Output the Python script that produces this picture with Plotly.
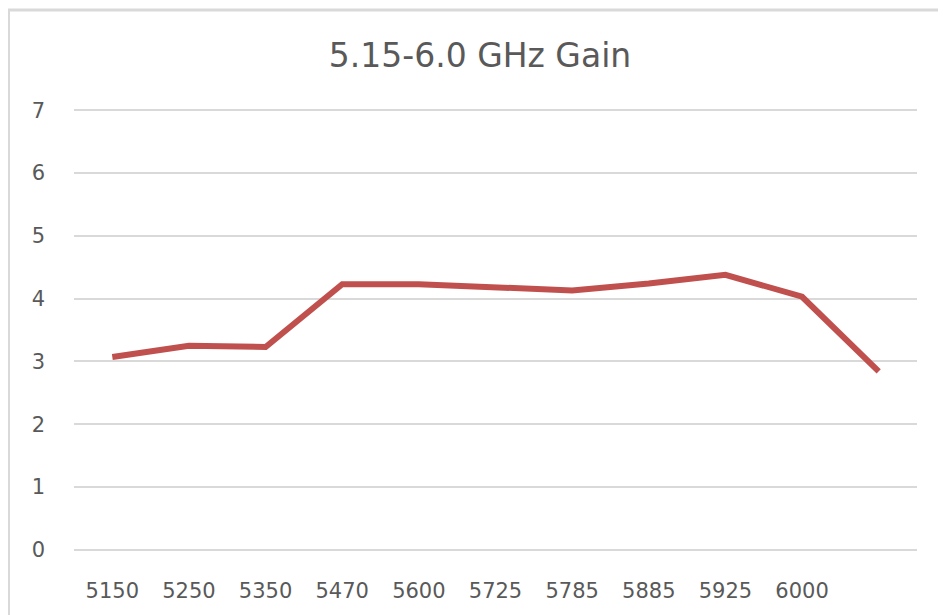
import plotly.graph_objects as go

# Data
categories = ["5150", "5250", "5350", "5470", "5600", "5725", "5785", "5885", "5925", "6000", ""]
gain = [3.07, 3.25, 3.23, 4.23, 4.23, 4.19, 4.13, 4.24, 4.38, 4.03, 2.84]
y_ticks = [0, 1, 2, 3, 4, 5, 6, 7]

W, H = 946, 615
OFF = 8  # default page body margin
L, R = 74 - OFF, 29 + OFF
T, B = 104 - OFF, 59 + OFF
plot_w = W - L - R
plot_h = H - T - B

x_idx = list(range(len(categories)))

fig = go.Figure()
fig.add_trace(go.Scatter(
    x=x_idx, y=gain, mode="lines",
    line=dict(color="#C0504D", width=6),
    showlegend=False, hoverinfo="skip",
))

def px_to_paper_x(px):
    return (px - OFF - L) / plot_w

def px_to_paper_y(py):
    return (H - B - (py - OFF)) / plot_h

frame_col = "#D9D9D9"
fig.add_shape(type="line", xref="paper", yref="paper",
              x0=px_to_paper_x(8.5), x1=px_to_paper_x(8.5),
              y0=px_to_paper_y(10), y1=px_to_paper_y(700),
              line=dict(color=frame_col, width=3))
fig.add_shape(type="line", xref="paper", yref="paper",
              x0=px_to_paper_x(7), x1=px_to_paper_x(1000),
              y0=px_to_paper_y(10), y1=px_to_paper_y(10),
              line=dict(color=frame_col, width=3))

fig.update_layout(
    width=W, height=H,
    margin=dict(l=L, r=R, t=T, b=B, pad=0),
    paper_bgcolor="white", plot_bgcolor="white",
    font=dict(family="DejaVu Sans, sans-serif", color="#595959"),
    title=dict(text="5.15-6.0 GHz Gain", x=(480 - OFF) / W, xanchor="center",
               y=1 - (55 - OFF) / H, yanchor="middle",
               font=dict(size=33, color="#595959", family="DejaVu Sans, sans-serif")),
    xaxis=dict(
        range=[-0.5, len(categories) - 0.5],
        tickmode="array", tickvals=x_idx, ticktext=categories,
        showgrid=False, zeroline=False, showline=False,
        ticks="", ticklabelstandoff=20,
        tickfont=dict(size=21, color="#595959"),
        fixedrange=True,
    ),
    yaxis=dict(
        range=[-0.1, 7.1],
        tickmode="array", tickvals=y_ticks,
        showgrid=True, gridcolor="#D9D9D9", gridwidth=2,
        zeroline=False, showline=False,
        ticks="", ticklabelstandoff=28,
        tickfont=dict(size=21, color="#595959"),
        fixedrange=True,
    ),
)

fig.write_html("out.html")
